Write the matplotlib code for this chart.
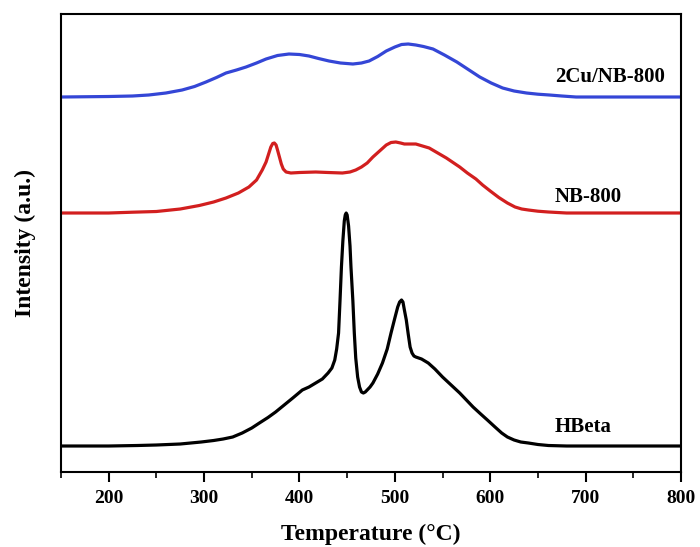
import numpy as np
import matplotlib
matplotlib.use("Agg")
import matplotlib.pyplot as plt

plt.rcParams['font.family'] = ['Liberation Serif', 'DejaVu Serif']
plt.rcParams['font.weight'] = 'bold'

# TPD profiles, intensity above each curve's own baseline (arb. units)
hbeta_t = [150, 200, 230, 250, 275, 297, 310, 320, 330, 340, 350, 358, 367,
           375, 384, 393, 398, 403, 410, 417, 424, 430, 434, 437, 439, 441,
           442.5, 444, 445.5, 447, 448, 449, 450, 451.5, 453, 454, 456, 457.5,
           459, 461, 463, 465, 467, 469, 471, 474, 477, 482, 487, 492, 496,
           500, 503, 505, 507, 508.5, 510, 512, 514, 516, 518, 520, 522, 528,
           535, 542, 550, 559, 568, 575, 582, 590, 597, 605, 612, 618, 625,
           632, 640, 650, 661, 680, 800]
hbeta_i = [0, 0, 0.5, 1, 2, 4, 5.5, 7, 9, 13, 18, 23, 28.5,
           34, 41, 48, 52, 56, 59, 63, 67, 73, 78, 86, 97, 113,
           145, 179, 205, 225, 231, 233, 231, 220, 200, 179, 145, 113,
           88, 69, 59, 54, 53, 54, 56, 59, 63, 72, 83, 97, 113,
           128, 139, 144, 146, 144, 136, 126, 112, 99, 93, 90, 89, 87,
           83, 77, 69, 61, 53, 46, 39, 32, 26, 19, 13, 9, 6,
           4, 3, 1.5, 0.5, 0, 0]

nb_t = [150, 200, 225, 250, 275, 295, 310, 323, 336, 347, 355, 361, 365,
        368, 370, 372, 373.7, 375.5, 377, 379, 381, 383, 386, 391, 400,
        417, 430, 445, 453, 459, 465, 471, 477, 484, 491, 496, 501, 506,
        510, 516, 522, 529, 536, 545, 554, 561, 568, 576, 585, 592, 600,
        609, 618, 626, 633, 640, 650, 661, 680, 800]
nb_i = [0, 0, 0.8, 1.5, 4, 7.5, 11, 15, 20, 26, 33, 43, 51,
        60, 66, 69.5, 70, 68, 63, 56, 49, 44, 41, 40, 40.5,
        41, 40.5, 40, 41, 43, 46, 50, 56, 62, 68, 70.5, 71, 70,
        69, 69, 69, 67, 65, 60, 55, 50.5, 46, 40, 34, 28, 22,
        15.5, 10, 6, 4, 3, 1.8, 1, 0, 0]

cu_t = [150, 200, 225, 242, 260, 277, 290, 302, 313, 323, 334, 344, 355,
        365, 377, 389, 400, 410, 420, 431, 443, 456, 465, 473, 482, 491,
        500, 507, 514, 522, 530, 540, 552, 565, 577, 589, 601, 613, 625,
        638, 650, 662, 675, 690, 800]
cu_i = [0, 0.5, 1, 2, 4, 7, 10.5, 15, 19.5, 24, 27, 30, 34,
        38, 41.5, 43, 42.5, 41, 38.5, 36, 34, 33, 34, 36, 40.5, 46,
        50, 52.5, 53, 52, 50.5, 48, 42, 35, 27.5, 20, 14, 9, 6,
        4, 2.8, 2, 1, 0, 0]

names = ['HBeta', 'NB-800', '2Cu/NB-800']
colors = ['black', '#d21f1f', '#3446d6']
offsets = [26, 259, 375]

fig = plt.figure(figsize=(7, 5.47), dpi=100)
ax = fig.add_axes([0.0871, 0.1371, 0.8858, 0.8373])

curves = [(hbeta_t, hbeta_i), (nb_t, nb_i), (cu_t, cu_i)]
for (t, inten), c, off in zip(curves, colors, offsets):
    ax.plot(t, np.array(inten) + off, color=c, lw=2.3,
            solid_joinstyle='round', solid_capstyle='round')

label_y = [45, 275, 395]
for name, ly in zip(names, label_y):
    ax.text(668, ly, name, fontsize=15, fontweight='bold', va='center', ha='left')

ax.set_xlim(150, 800)
ax.set_ylim(0, 458)
ax.set_xticks(range(200, 801, 100))
ax.set_xticks(range(150, 801, 50), minor=True)
ax.set_yticks([])
ax.tick_params(axis='x', which='major', direction='out', length=7, width=1.5,
               labelsize=14, pad=6)
ax.tick_params(axis='x', which='minor', direction='out', length=4, width=1.2)
for lab in ax.get_xticklabels():
    lab.set_fontweight('bold')
for s in ax.spines.values():
    s.set_linewidth(1.5)

ax.set_xlabel('Temperature (°C)', fontsize=17, fontweight='bold', labelpad=12)
ax.set_ylabel('Intensity (a.u.)', fontsize=17, fontweight='bold', labelpad=18)

fig.savefig('out.png', dpi=100)
